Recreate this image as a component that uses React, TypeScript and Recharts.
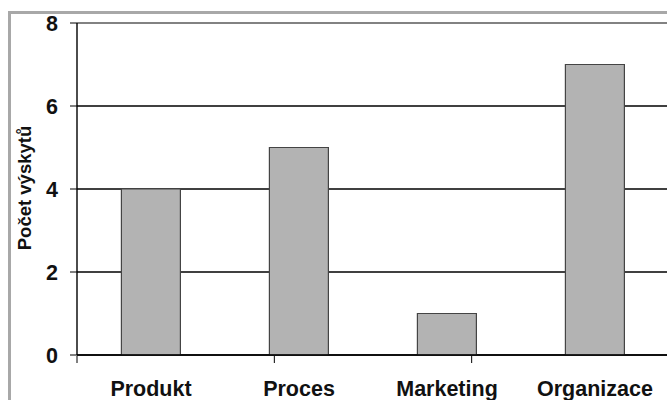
import { BarChart, Bar, XAxis, YAxis, CartesianGrid, ReferenceLine } from "recharts";

const categories = ["Produkt", "Proces", "Marketing", "Organizace"];
const counts = [4, 5, 1, 7];
const yTicks = [0, 2, 4, 6, 8];
const edgeTicks = [0, 1, 2, 3, 4];

const data = categories.map((name, i) => ({ name, count: counts[i] }));

const font = "'Liberation Sans', Arial, sans-serif";

export default function App() {
  return (
    <div style={{ position: "absolute", left: 0, top: 0, width: 667, height: 400, overflow: "hidden", background: "#fff" }}>
      <div
        style={{
          position: "absolute",
          left: 8,
          top: 11,
          width: 700,
          height: 420,
          border: "3px solid #a8a8a8",
        }}
      />
      <div style={{ position: "absolute", left: 0, top: 0 }}>
        <BarChart
          width={700}
          height={400}
          data={data}
          margin={{ top: 23, right: 31, left: 0, bottom: 6 }}
          barCategoryGap="30%"
        >
          <CartesianGrid vertical={false} stroke="#000" strokeWidth={1.4} />
          <XAxis
            xAxisId="a"
            dataKey="name"
            height={1}
            tickLine={false}
            tickSize={0}
            tickMargin={26}
            axisLine={{ stroke: "#000", strokeWidth: 1.4 }}
            tick={{ fill: "#111", fontSize: 21.5, fontWeight: "bold", fontFamily: font }}
          />
          <XAxis
            xAxisId="b"
            type="number"
            domain={[0, 4]}
            ticks={edgeTicks}
            tick={() => <g />}
            tickSize={7}
            axisLine={false}
            tickLine={{ stroke: "#000" }}
            height={38}
          />
          <YAxis
            width={77}
            domain={[0, 8]}
            ticks={yTicks}
            tickSize={7}
            tickMargin={12}
            axisLine={{ stroke: "#000", strokeWidth: 1.4 }}
            tickLine={{ stroke: "#000" }}
            tick={{ fill: "#111", fontSize: 21.5, fontWeight: "bold", fontFamily: font }}
            label={{
              content: () => (
                <text
                  x={24}
                  y={188}
                  transform="rotate(-90 24 188)"
                  textAnchor="middle"
                  dominantBaseline="central"
                  fill="#111"
                  fontSize={18.5}
                  fontWeight="bold"
                  fontFamily={font}
                >
                  Počet výskytů
                </text>
              ),
            }}
          />
          <ReferenceLine y={8} xAxisId="a" stroke="#999" strokeWidth={1.5} />
          <Bar
            dataKey="count"
            xAxisId="a"
            fill="#b3b3b3"
            stroke="#444"
            strokeWidth={1.2}
            isAnimationActive={false}
          />
        </BarChart>
      </div>
    </div>
  );
}
